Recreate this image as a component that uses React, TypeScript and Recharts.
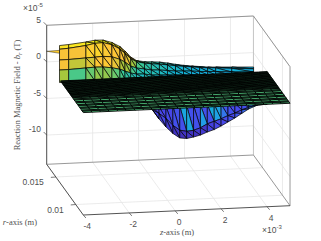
import React from 'react';
import { ScatterChart, Scatter, XAxis, YAxis } from 'recharts';

// ---- axis values (z in 1e-3 m, r in m, b in 1e-5 T) ----
const zTicks = [-4, -2, 0, 2, 4];
const rTicks = [0.01, 0.015];
const bTicks = [5, 0, -5, -10];
const zTickLabels = ['-4', '-2', '0', '2', '4'];
const rTickLabels = ['0.01', '0.015'];
const bTickLabels = ['5', '0', '-5', '-10'];
const zRange = [-4, 5];
const rRange = [0.0081, 0.0173];
const bRange = [-14, 5];

// ---- upper (hump) surface ----
const humpZ = [-4, -3.6, -2.85, -2.46, -2.11, -1.72, -1.37, -1.15, -0.9, -0.65, -0.3, 0, 0.35, 0.7, 1.05, 1.4, 1.75, 2.1, 2.45, 2.8, 3.5, 4.45];
const humpR = 0.01408;
const humpB0 = [4.66, 4.74, 4.98, 5.17, 5.14, 4.75, 4.15, 3.51, 2.65, 2.14, 1.92, 1.87, 1.79, 1.61, 1.38, 1.19, 1.05, 0.93, 0.81, 0.76, 0.66, 0.53];
const humpB1 = [4.15, 4.23, 4.5, 4.74, 4.79, 4.45, 3.82, 3.18, 2.45, 1.98, 1.72, 1.6, 1.5, 1.35, 1.19, 1.05, 0.93, 0.81, 0.7, 0.65, 0.49, 0.28];
const humpB2 = [2.68, 2.69, 2.8, 2.85, 2.91, 2.8, 2.4, 2.0, 1.42, 1.11, 0.93, 0.75, 0.7, 0.58, 0.46, 0.41, 0.36, 0.25, 0.2, 0.15, -0.02, -0.15];
const humpB3 = [1.31, 1.32, 1.43, 1.49, 1.46, 1.3, 1.05, 0.77, 0.46, 0.29, 0.24, 0.06, 0.01, -0.03, -0.08, -0.13, -0.18, -0.23, -0.28, -0.33, -0.43, -0.56];
const humpB4 = [-0.4, -0.4, -0.4, -0.4, -0.4, -0.4, -0.4, -0.4, -0.4, -0.4, -0.4, -0.4, -0.4, -0.4, -0.4, -0.4, -0.4, -0.4, -0.4, -0.4, -0.4, -0.4];
const humpShade0 = [0.9, 0.92, 0.95, 0.98, 1, 0.92, 0.85, 0.8, 0.72, 0.55, 0.5, 0.47, 0.45, 0.42, 0.4, 0.39, 0.38, 0.37, 0.37, 0.36, 0.36];
const humpShade1 = [0.74, 0.74, 0.8, 0.82, 0.76, 0.74, 0.73, 0.7, 0.6, 0.5, 0.46, 0.44, 0.42, 0.4, 0.38, 0.37, 0.36, 0.36, 0.36, 0.35, 0.35];
const humpShade2 = [0.74, 0.66, 0.68, 0.75, 0.76, 0.7, 0.62, 0.6, 0.5, 0.44, 0.43, 0.42, 0.4, 0.38, 0.37, 0.36, 0.35, 0.35, 0.35, 0.34, 0.34];
const humpShade3 = [0.62, 0.52, 0.55, 0.58, 0.58, 0.54, 0.5, 0.46, 0.44, 0.42, 0.42, 0.4, 0.38, 0.36, 0.35, 0.34, 0.33, 0.33, 0.32, 0.32, 0.32];

// ---- thin spike at the rear corner of the hump ----
const spikeZ = [-4, -4, -4];
const spikeR = [0.0173, 0.01408, 0.01408];
const spikeB = [1.45, 4.0, 3.6];
const spikeShade = 0.8;

// ---- lower (trough) surface ----
const troughZ = [-1, -0.7, -0.4, -0.1, 0.2, 0.5, 0.8, 1.1, 1.4, 1.7, 2, 2.3, 2.6, 2.9, 3.2, 3.6, 4];
const troughR = 0.0081;
const troughB0 = [0.3, 0.3, 0.3, 0.3, 0.3, 0.3, 0.3, 0.3, 0.3, 0.3, 0.3, 0.3, 0.3, 0.3, 0.3, 0.3, 0.3];
const troughB1 = [0, -0.6, -1.3, -2.3, -3.0, -3.2, -3.1, -2.8, -2.3, -2.0, -1.7, -1.3, -1.0, -0.6, -0.3, 0, 0];
const troughB2 = [0, -1.34, -2.47, -3.4, -4.06, -4.18, -4.02, -3.79, -3.42, -3.12, -2.68, -2.17, -1.67, -1.09, -0.52, -0.03, 0];
const troughShade0A = [0.1, 0.12, 0.12, 0.14, 0.32, 0.14, 0.14, 0.14, 0.34, 0.3, 0.15, 0.13, 0.14, 0.16, 0.2, 0.25];
const troughShade0B = [0.12, 0.12, 0.13, 0.14, 0.14, 0.32, 0.14, 0.28, 0.14, 0.3, 0.2, 0.14, 0.13, 0.14, 0.22, 0.25];
const troughShade1A = [0.12, 0.12, 0.1, 0.06, 0.05, 0.05, 0.07, 0.06, 0.1, 0.12, 0.13, 0.12, 0.13, 0.16, 0.2, 0.25];
const troughShade1B = [0.12, 0.1, 0.08, 0.05, 0.04, 0.06, 0.05, 0.08, 0.11, 0.12, 0.12, 0.14, 0.15, 0.18, 0.22, 0.25];

// ---- flat finely meshed band ----
const planeZ = [-4, -3.625, -3.25, -2.875, -2.5, -2.125, -1.75, -1.375, -1, -0.625, -0.25, 0.125, 0.5, 0.875, 1.25, 1.625, 2, 2.375, 2.75, 3.125, 3.5, 3.875, 4.25, 4.625, 5];
const planeR = [0.0081, 0.00838, 0.00856, 0.00888, 0.00907, 0.00939, 0.00957, 0.00989, 0.01008, 0.0104, 0.01058, 0.01081, 0.01095, 0.01109, 0.01123, 0.01134, 0.01145, 0.01156, 0.01167, 0.01178, 0.01189, 0.012, 0.01211, 0.01222, 0.01233, 0.01244, 0.01255, 0.01266, 0.01277, 0.01288, 0.01299, 0.0131, 0.01321, 0.01332, 0.01343, 0.01354, 0.01365, 0.01376, 0.01384];
const planeB = 0;
const planeShade = 0.53;

// ---- colour map ----
const parula: number[][] = [
  [62, 38, 168], [71, 71, 235], [39, 150, 235], [18, 177, 214], [55, 200, 151],
  [171, 199, 57], [254, 195, 56], [251, 220, 40], [249, 251, 21],
];

function shadeColor(v: number) {
  const s = Math.max(0, Math.min(0.9999, v)) * (parula.length - 1);
  const i = Math.floor(s);
  const f = s - i;
  const c = parula[i].map((a, k) => Math.round(a + (parula[i + 1][k] - a) * f));
  return `rgb(${c[0]},${c[1]},${c[2]})`;
}

// orthographic view of the 3-D box onto the chart plane
function project(z: number, r: number, b: number) {
  const t = (r - rRange[0]) / (rRange[1] - rRange[0]);
  const dz = z - zRange[0];
  const db = b - bRange[0];
  return {
    px: 83.3 + 22.97 * dz - 36.6 * t,
    py: 215 - 1.033 * dz - 50.7 * t - 7.316 * db,
  };
}

type Facet = { n: number; shade: number };
type Mesh = { pts: { px: number; py: number }[]; facets: Facet[] };

function addFacet(m: Mesh, verts: number[][], shade: number) {
  verts.forEach((v) => m.pts.push(project(v[0], v[1], v[2])));
  m.facets.push({ n: verts.length, shade });
}

function buildGrid(
  zs: number[], rs: number[], bAt: (row: number, col: number) => number,
  shadeAt: (row: number, col: number, tri: number) => number, quadCols = 0,
): Mesh {
  const m: Mesh = { pts: [], facets: [] };
  for (let j = 0; j < rs.length - 1; j++) {
    for (let i = 0; i < zs.length - 1; i++) {
      const a = [zs[i], rs[j], bAt(j, i)];
      const b = [zs[i + 1], rs[j], bAt(j, i + 1)];
      const c = [zs[i + 1], rs[j + 1], bAt(j + 1, i + 1)];
      const d = [zs[i], rs[j + 1], bAt(j + 1, i)];
      if (i < quadCols) {
        addFacet(m, [a, b, c, d], shadeAt(j, i, 0));
      } else {
        addFacet(m, [a, b, c], shadeAt(j, i, 0));
        addFacet(m, [a, c, d], shadeAt(j, i, 1));
      }
    }
  }
  return m;
}

const humpRows = [humpB0, humpB1, humpB2, humpB3, humpB4];
const humpShades = [humpShade0, humpShade1, humpShade2, humpShade3];
const humpMesh = buildGrid(humpZ, humpRows.map(() => humpR), (j, i) => humpRows[j][i], (j, i, tri) => humpShades[j][i] + tri * 0.02, 2);

const troughRows = [troughB0, troughB1, troughB2];
const troughShades = [[troughShade0A, troughShade0B], [troughShade1A, troughShade1B]];
const troughMesh = buildGrid(troughZ, troughRows.map(() => troughR), (j, i) => troughRows[j][i], (j, i, tri) => troughShades[j][tri][i]);

const planeMesh = buildGrid(planeZ, planeR, () => planeB, () => planeShade, planeZ.length);

const spikeMesh: Mesh = { pts: [], facets: [] };
addFacet(spikeMesh, spikeZ.map((z, i) => [z, spikeR[i], spikeB[i]]), spikeShade);

const meshLine = (m: Mesh, strokeWidth: number) => (props: any) => {
  const pts = props.points || [];
  let k = 0;
  return (
    <g>
      {m.facets.map((f, idx) => {
        const p = pts.slice(k, k + f.n).map((q: any) => `${q.x},${q.y}`).join(' ');
        k += f.n;
        return <polygon key={idx} points={p} fill={shadeColor(f.shade)} stroke="#000" strokeWidth={strokeWidth} strokeLinejoin="round" />;
      })}
    </g>
  );
};

const segLine = (stroke: string, width: number) => (props: any) => {
  const pts = props.points || [];
  const out: React.ReactNode[] = [];
  for (let i = 0; i + 1 < pts.length; i += 2) {
    out.push(<line key={i} x1={pts[i].x} y1={pts[i].y} x2={pts[i + 1].x} y2={pts[i + 1].y} stroke={stroke} strokeWidth={width} />);
  }
  return <g>{out}</g>;
};

const noMark = () => <g />;

const [zA, zB] = zRange;
const [rA, rB] = rRange;
const [bA, bB] = bRange;
const seg = (a: number[], b: number[]) => [project(a[0], a[1], a[2]), project(b[0], b[1], b[2])];

const gridPts = [
  ...zTicks.flatMap((z) => [...seg([z, rB, bA], [z, rB, bB]), ...seg([z, rA, bA], [z, rB, bA])]),
  ...bTicks.flatMap((b) => [...seg([zA, rB, b], [zB, rB, b]), ...seg([zB, rB, b], [zB, rA, b])]),
  ...rTicks.flatMap((r) => [...seg([zA, r, bA], [zB, r, bA]), ...seg([zB, r, bA], [zB, r, bB])]),
];
const darkBox = [
  ...seg([zA, rB, bA], [zA, rB, bB]),
  ...seg([zA, rB, bA], [zA, rA, bA]),
  ...seg([zA, rA, bA], [zB, rA, bA]),
];
const midBox = [
  ...seg([zA, rB, bA], [zB, rB, bA]),
  ...seg([zB, rA, bA], [zB, rB, bA]),
  ...seg([zB, rA, bA], [zB, rA, bB]),
  ...seg([zA, rB, bB], [zB, rB, bB]),
  ...seg([zB, rB, bB], [zB, rA, bB]),
];
const lightBox = seg([zB, rB, bA], [zB, rB, bB]);

const tickPts = [
  ...bTicks.flatMap((b) => {
    const p = project(zA, rB, b);
    return [p, { px: p.px - 3, py: p.py - 3 }];
  }),
  ...zTicks.flatMap((z) => {
    const p = project(z, rA, bA);
    return [p, { px: p.px + 2.6, py: p.py + 3 }];
  }),
  ...rTicks.flatMap((r) => {
    const p = project(zA, r, bA);
    return [p, { px: p.px - 5, py: p.py + 0.4 }];
  }),
];

const tickText = '#505050';
const sans = '"Liberation Sans", Arial, sans-serif';
const serif = '"Liberation Serif", "Times New Roman", serif';

const textShape = (anchor: string) => (props: any) => (
  <text x={props.cx} y={props.cy} textAnchor={anchor} dy="0.35em" fontFamily={sans} fontSize={8.5} fill={tickText}>
    {props.payload.label}
  </text>
);

const bLabelPts = bTicks.map((b, i) => {
  const p = project(zA, rB, b);
  return { px: 41, py: p.py - 5.7, label: bTickLabels[i] };
});
const zLabelPts = zTicks.map((z, i) => {
  const p = project(z, rA, bA);
  return { px: p.px + 4, py: p.py + 11.3, label: zTickLabels[i] };
});
const rLabelPts = rTicks.map((r, i) => {
  const p = project(zA, r, bA);
  return { px: p.px - 12, py: p.py + 5, label: rTickLabels[i] };
});

const free = (px: number, py: number) => [{ px, py }];

export default function App() {
  return (
    <div style={{ position: 'absolute', left: 0, top: 0, width: 321, height: 241, overflow: 'hidden' }}>
      <ScatterChart width={321} height={241} margin={{ top: 0, right: 0, bottom: 0, left: 0 }}>
        <XAxis type="number" dataKey="px" domain={[0, 321]} hide />
        <YAxis type="number" dataKey="py" domain={[0, 241]} reversed hide />

        <Scatter data={gridPts} line={segLine('#e6e6e6', 0.8)} shape={noMark} isAnimationActive={false} />
        <Scatter data={lightBox} line={segLine('#bdbdbd', 0.9)} shape={noMark} isAnimationActive={false} />
        <Scatter data={midBox} line={segLine('#8c8c8c', 0.9)} shape={noMark} isAnimationActive={false} />
        <Scatter data={darkBox} line={segLine('#404040', 0.9)} shape={noMark} isAnimationActive={false} />
        <Scatter data={tickPts} line={segLine('#404040', 0.7)} shape={noMark} isAnimationActive={false} />

        <Scatter data={troughMesh.pts} line={meshLine(troughMesh, 0.7)} shape={noMark} isAnimationActive={false} />
        <Scatter data={spikeMesh.pts} line={meshLine(spikeMesh, 0.4)} shape={noMark} isAnimationActive={false} />
        <Scatter data={humpMesh.pts} line={meshLine(humpMesh, 0.7)} shape={noMark} isAnimationActive={false} />
        <Scatter data={planeMesh.pts} line={meshLine(planeMesh, 0.9)} shape={noMark} isAnimationActive={false} />

        <Scatter data={bLabelPts} shape={textShape('end')} isAnimationActive={false} />
        <Scatter data={zLabelPts} shape={textShape('middle')} isAnimationActive={false} />
        <Scatter data={rLabelPts} shape={textShape('end')} isAnimationActive={false} />

        <Scatter
          data={free(23, 8)}
          isAnimationActive={false}
          shape={(p: any) => (
            <text x={p.cx} y={p.cy} dy="0.35em" fontFamily={sans} fontSize={8.5} fill={tickText}>
              {'\u00d7'}10<tspan dy="-3.5" fontSize={6}>-5</tspan>
            </text>
          )}
        />
        <Scatter
          data={free(262, 230)}
          isAnimationActive={false}
          shape={(p: any) => (
            <text x={p.cx} y={p.cy} dy="0.35em" fontFamily={sans} fontSize={8.5} fill={tickText}>
              {'\u00d7'}10<tspan dy="-3.5" fontSize={6}>-3</tspan>
            </text>
          )}
        />
        <Scatter
          data={free(37, 222)}
          isAnimationActive={false}
          shape={(p: any) => (
            <text x={p.cx} y={p.cy} dy="0.35em" textAnchor="end" fontFamily={serif} fontSize={8.5} fill={tickText}>
              <tspan fontStyle="italic">r</tspan>-axis (m)
            </text>
          )}
        />
        <Scatter
          data={free(177, 232)}
          isAnimationActive={false}
          shape={(p: any) => (
            <text x={p.cx} y={p.cy} dy="0.35em" textAnchor="middle" fontFamily={serif} fontSize={8.5} fill={tickText}>
              <tspan fontStyle="italic">z</tspan>-axis (m)
            </text>
          )}
        />
        <Scatter
          data={free(17.5, 95)}
          isAnimationActive={false}
          shape={(p: any) => (
            <text
              x={p.cx}
              y={p.cy}
              dy="0.35em"
              textAnchor="middle"
              fontFamily={serif}
              fontSize={8.5}
              fill={tickText}
              transform={`rotate(-90 ${p.cx} ${p.cy})`}
            >
              Reaction Magnetic Field - <tspan fontStyle="italic">b</tspan>
              <tspan fontStyle="italic" fontSize={6} dy="1.5">r</tspan>
              <tspan dy="-1.5"> (T)</tspan>
            </text>
          )}
        />
      </ScatterChart>
    </div>
  );
}
